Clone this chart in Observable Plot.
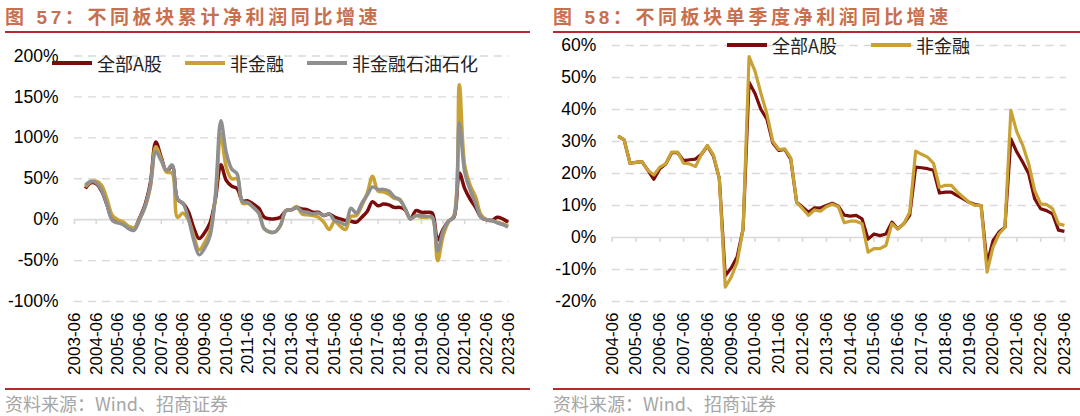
<!DOCTYPE html>
<html><head><meta charset="utf-8">
<script src="https://cdn.jsdelivr.net/npm/d3@7"></script>
<script src="https://cdn.jsdelivr.net/npm/@observablehq/plot@0.6"></script>
<style>
html,body{margin:0;padding:0;background:#fff;}
#root{position:relative;width:1080px;height:416px;overflow:hidden;font-family:"Liberation Sans",Arial,sans-serif;}
.title{position:absolute;top:6px;font-family:"Liberation Sans","Noto Sans CJK SC",sans-serif;font-weight:700;font-size:19px;letter-spacing:3.6px;color:#c8704e;white-space:nowrap;line-height:24px}
.rule{position:absolute;height:2px;background:#b8282c}
.source{position:absolute;top:391px;font-family:"Noto Sans CJK SC",sans-serif;font-size:18px;color:#a6a6a6;white-space:nowrap;line-height:24px}
.chart{position:absolute}
.legend{position:absolute;display:flex;align-items:center;font-family:"Noto Sans CJK SC",sans-serif;font-size:18px;color:#222;white-space:nowrap;line-height:22px}
.item{display:flex;align-items:center}
.sw{display:inline-block;width:40px;height:4px;margin-right:5px}
</style></head>
<body><div id="root"></div>
<script>
// ---------- data ----------
const seriesNames = ["全部A股", "非金融", "非金融石油石化"];
const seriesColors = ["#7b0c0c", "#c9a235", "#8f8f8f"];

// Figure 57: cumulative net profit YoY (%), quarterly from 2003-12 to 2023-06
const leftTitleNum = "57";
const leftTitleText = "不同板块累计净利润同比增速";
const leftTickLabels = ["2003-06","2004-06","2005-06","2006-06","2007-06","2008-06","2009-06","2010-06","2011-06","2012-06","2013-06","2014-06","2015-06","2016-06","2017-06","2018-06","2019-06","2020-06","2021-06","2022-06","2023-06"];
const leftStart = "2003-12";
const leftYTicks = [-100, -50, 0, 50, 100, 150, 200];
const leftAllA = [
  38, 45, 44, 35, 18, 0, -3, -5, -10, -11,
  2, 18, 45, 95, 76, 59, 66, 25, 20, 10,
  -10, -23, -16, -4, 25, 67, 48, 41, 38, 23,
  23, 19, 14, 3, 1, 1, 3, 11, 12, 15,
  13, 12, 9, 9, 5, 7, 3, 1, -1, -2,
  -3, 3, 10, 22, 17, 19, 18, 15, 15, 12,
  1, 11, 9, 9, 8, -25, -12, -2, 3, 57,
  38, 25, 15, 3, 0, -1, 3, 1, -3
];
const leftNonFin = [
  40, 46, 47, 42, 25, 5, 0, -3, -8, -10,
  1, 15, 40, 89, 74, 58, 57, 3, 8, 0,
  -20, -37, -28, -14, 28, 105, 64, 50, 50, 20,
  20, 15, 8, -11, -15, -15, -7, 11, 12, 16,
  7, 6, 5, 3, -3, -12, -2, -8, -12, 4,
  5, 17, 32, 53, 35, 34, 31, 26, 25, 13,
  1, 5, 3, 3, 3, -50, -20, -3, 5, 165,
  66, 42, 28, 6, 0, -1, -3, -5, -8
];
const leftNonFinExOil = [
  42, 47, 45, 36, 18, -1, -4, -6, -11, -13,
  0, 16, 42, 83, 72, 60, 67, 25, 20, 2,
  -25, -43, -35, -20, 30, 121, 82, 62, 56, 22,
  21, 15, 8, -11, -15, -15, -7, 11, 12, 15,
  10, 9, 7, 8, 5, 7, -1, -3, -6, 14,
  8, 20, 30, 40, 37, 37, 35, 28, 24, 14,
  1, 5, 5, 4, 3, -38, -14, -2, 4, 118,
  58, 36, 20, 3, 0, -1, -4, -6, -9
];

// Figure 58: single-quarter net profit YoY (%), quarterly from 2004-09 to 2023-06
const rightTitleNum = "58";
const rightTitleText = "不同板块单季度净利润同比增速";
const rightTickLabels = ["2004-06","2005-06","2006-06","2007-06","2008-06","2009-06","2010-06","2011-06","2012-06","2013-06","2014-06","2015-06","2016-06","2017-06","2018-06","2019-06","2020-06","2021-06","2022-06","2023-06"];
const rightStart = "2004-09";
const rightYTicks = [-20, -10, 0, 10, 20, 30, 40, 50, 60];
const rightAllA = [
  31.7, 30.5, 23.2, 23.5, 23.7, 21, 18.2, 21.5, 23, 26.5,
  26.5, 24, 24.3, 24.5, 26, 28.6, 25.5, 18.5, -12, -9.5,
  -6, 2.7, 48.5, 45, 40, 37, 29.5, 27.2, 27.5, 24.5,
  11, 9.5, 7.9, 9.3, 9.2, 10, 10.7, 9.8, 7, 6.7,
  6.9, 5.8, -0.5, 1.1, 0.6, 1.1, 4.8, 2.7, 4.3, 6.9,
  22, 21.8, 21.5, 21, 13.9, 14.2, 14.2, 13.1, 12.1, 11,
  10.3, 10, -8.2, -1, 1.7, 3.2, 30.8, 26.7, 23.5, 19.9,
  12.1, 9, 8.4, 7.4, 2.3, 1.9
];
const rightNonFin = [
  31.7, 30.5, 23.2, 23.5, 23.7, 21, 19.5, 22, 23, 26.7,
  26.7, 23.2, 23, 22.2, 26, 28.8, 25.8, 18.5, -15.5, -12.4,
  -7.7, 2.7, 56.5, 52, 45, 38.6, 30, 27.5, 27.7, 24.9,
  11, 9, 6.9, 8.6, 8.2, 9.6, 10.4, 9.6, 4.6, 5.1,
  5.1, 4.3, -4.6, -3.5, -3.5, -2.5, 4.3, 2.7, 4.3, 7.9,
  27, 26, 25.1, 23.2, 15.7, 16.3, 16.3, 14.2, 12.6, 11,
  10, 10, -10.8, -3, 1.1, 3.2, 39.7, 33, 28.8, 23,
  14.7, 10.5, 10.3, 9, 4.3, 3.8
];
const sourceText = "资料来源：Wind、招商证券";

// ---------- helpers ----------
function qIndex(label, base) {
  const [y, m] = label.split("-").map(Number);
  const [by, bm] = base.split("-").map(Number);
  return (y - by) * 4 + (m - bm) / 3;
}
function rowsFrom(values, start, base) {
  const s = qIndex(start, base);
  return values.map((v, k) => ({x: s + k, v}));
}

const root = document.getElementById("root");
function addDiv(cls, css, html) {
  const d = document.createElement("div");
  d.className = cls;
  Object.assign(d.style, css);
  if (html != null) d.innerHTML = html;
  root.appendChild(d);
  return d;
}

function makeChart(cfg) {
  const base = cfg.tickLabels[0];
  const ticks = cfg.tickLabels.map(l => qIndex(l, base));
  const labelOf = new Map(ticks.map((t, i) => [t, cfg.tickLabels[i]]));
  const grid = cfg.yTicks.filter(t => t !== 0);
  const marks = [
    Plot.ruleY(grid, {stroke: "#d9d9d9", strokeWidth: 1.3, strokeDasharray: "8,6"}),
    Plot.ruleY([0], {stroke: "#d9d9d9", strokeWidth: 1.6}),
    Plot.ruleX(ticks, {x: d => d, y1: 0, y2: 0, insetBottom: -5, stroke: "#d9d9d9", strokeWidth: 1.6}),
    ...cfg.series.map(s => Plot.line(rowsFrom(s.values, cfg.start, base), {
      x: "x", y: "v", stroke: s.color, strokeWidth: cfg.strokeWidth, curve: cfg.curve,
      strokeLinejoin: "round", strokeLinecap: "butt"
    })),
    Plot.axisY(cfg.yTicks, {tickFormat: d => d + "%", tickSize: 0, tickPadding: 16, fontSize: 17.5, fill: "#000"}),
    Plot.axisX(ticks, {tickFormat: d => labelOf.get(d), tickRotate: -90, tickSize: 0, tickPadding: 11, fontSize: 17, fill: "#000"})
  ];
  const svg = Plot.plot({
    width: 540, height: cfg.height,
    marginLeft: cfg.marginLeft, marginRight: cfg.marginRight,
    marginTop: cfg.marginTop, marginBottom: cfg.marginBottom,
    x: {domain: [0, cfg.xMax], label: null},
    y: {domain: [cfg.yTicks[0], cfg.yTicks[cfg.yTicks.length - 1]], label: null},
    style: {fontFamily: "'Liberation Sans', Arial, sans-serif", fontSize: "17px", background: "transparent", overflow: "visible", color: "#000"},
    marks
  });
  const wrap = addDiv("chart", {left: cfg.left + "px", top: cfg.top + "px"});
  wrap.appendChild(svg);

  const lg = addDiv("legend", {left: cfg.legendLeft + "px", top: (cfg.legendY - 11) + "px", gap: cfg.legendGap + "px"});
  cfg.series.forEach(s => {
    const it = document.createElement("div");
    it.className = "item";
    it.innerHTML = `<span class="sw" style="background:${s.color}"></span><span>${s.name}</span>`;
    lg.appendChild(it);
  });
}

// titles, rules, sources
addDiv("title", {left: "5px"}, `图 ${leftTitleNum}：${leftTitleText}`);
addDiv("title", {left: "553px"}, `图 ${rightTitleNum}：${rightTitleText}`);
addDiv("rule", {left: "5px", width: "525px", top: "31px"});
addDiv("rule", {left: "553px", width: "527px", top: "31px"});
addDiv("rule", {left: "5px", width: "525px", top: "388px"});
addDiv("rule", {left: "553px", width: "527px", top: "388px"});
addDiv("source", {left: "5px"}, sourceText);
addDiv("source", {left: "553px"}, sourceText);

makeChart({
  left: 0, top: 40, height: 345,
  marginLeft: 74, marginRight: 31, marginTop: 15.5, marginBottom: 84,
  xMax: 80.26,
  tickLabels: leftTickLabels, start: leftStart, yTicks: leftYTicks,
  curve: "catmull-rom", strokeWidth: 3.5,
  series: [
    {name: seriesNames[0], color: seriesColors[0], values: leftAllA},
    {name: seriesNames[1], color: seriesColors[1], values: leftNonFin},
    {name: seriesNames[2], color: seriesColors[2], values: leftNonFinExOil}
  ],
  legendLeft: 52, legendY: 63, legendGap: 23
});

makeChart({
  left: 540, top: 30, height: 355,
  marginLeft: 71.7, marginRight: 14, marginTop: 15, marginBottom: 84,
  xMax: 76.35,
  tickLabels: rightTickLabels, start: rightStart, yTicks: rightYTicks,
  curve: "linear", strokeWidth: 3.2,
  series: [
    {name: seriesNames[0], color: seriesColors[0], values: rightAllA},
    {name: seriesNames[1], color: seriesColors[1], values: rightNonFin}
  ],
  legendLeft: 727, legendY: 45, legendGap: 34
});
</script>
</body></html>
